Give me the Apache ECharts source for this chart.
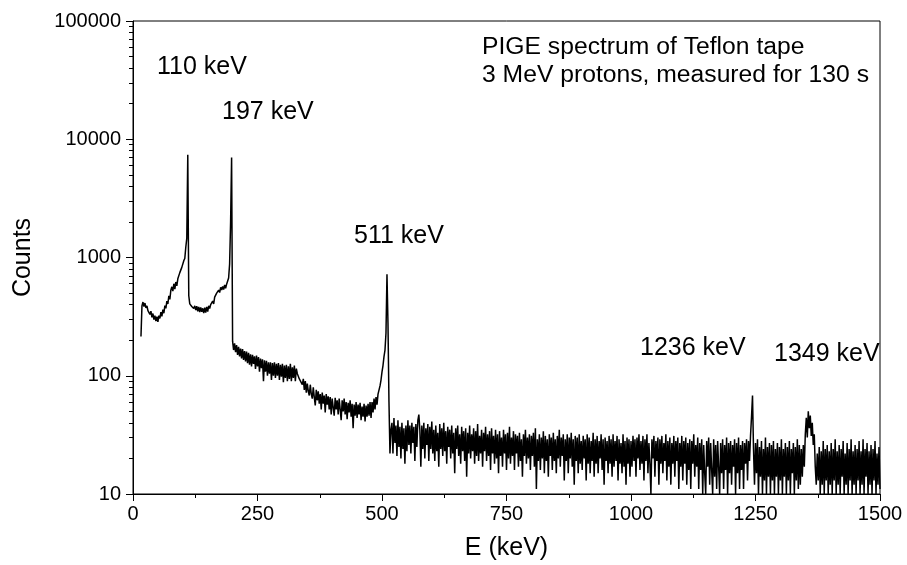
<!DOCTYPE html>
<html>
<head>
<meta charset="utf-8">
<script src="https://cdn.jsdelivr.net/npm/echarts@6/dist/echarts.min.js"></script>
<style>
html,body{margin:0;padding:0;background:#fff;}
#chart{width:907px;height:565px;}
</style>
</head>
<body>
<div id="chart"></div>
<script>
// ---- data (energy step 2 keV) ----
const STEP = 2;

// E = 16 .. 198 keV
const startLow = 16;
const countsLow = [
  215,390,420,385,412,375,390,355,368,330,
  352,312,336,298,322,290,316,286,322,305,
  345,318,362,338,392,372,428,405,475,442,
  530,565,520,600,540,620,575,660,655,745,
  735,825,830,940,980,1220,1450,7400,475,405,
  412,385,398,370,390,360,388,350,382,345,
  378,348,372,338,376,342,382,348,390,370,
  400,385,428,405,462,445,500,485,530,505,
  560,530,570,535,585,550,595,590,670,880,
  2000,7000
];

// E = 200 .. 518 keV
const startMid = 200;
const countsMid = [
  195,165,188,158,182,150,176,146,170,140,
  168,136,162,132,160,128,156,124,152,120,
  150,126,146,114,148,120,144,108,140,116,
  138,90,135,108,134,100,130,104,130,92,
  128,100,130,96,126,100,128,92,124,98,
  126,88,122,96,124,90,120,94,126,90,
  118,96,122,90,115,104,108,94,92,92,
  84,94,76,90,72,86,74,68,84,70,
  64,80,66,56,76,62,74,58,70,52,
  72,58,68,49,70,57,67,52,66,47,
  64,54,46,65,52,62,47,64,52,42,
  62,50,64,47,60,43,59,49,62,45,
  58,36,57,46,60,44,57,47,59,42,
  55,45,58,41,56,45,58,46,60,44,
  60,49,64,52,66,57,70,68,82,92,
  108,122,145,165,230,720,280,60,22,35
];

// E = 520 .. 998 keV
const startHigh = 520;
const countsHigh = [
  40,22,44,27,38,21,42,25,37,20,40,24,36,18,38,23,42,26,38,22,
  40,27,37,19,39,25,42,47,35,17,38,24,40,20,36,26,39,19,37,24,
  41,22,35,19,38,23,33,17,39,24,36,21,40,23,34,18,37,25,35,20,
  38,22,33,15,36,24,38,21,32,18,37,23,34,19,36,14,33,22,38,20,
  32,23,36,18,34,21,39,19,31,22,
  35,17,33,23,37,19,32,21,34,16,36,22,31,18,35,20,32,15,34,21,
  30,17,35,22,32,16,33,20,37,18,
  30,21,34,16,32,22,31,17,33,19,
  29,14,32,21,35,18,30,20,32,16,
  31,21,33,17,36,11,29,19,32,16,30,20,34,15,31,19,29,14,32,21,
  30,16,33,19,29,15,31,20,35,17,30,21,32,13,29,19,32,15,30,20,
  33,17,29,12,31,19,30,15,32,18,
  28,16,31,20,29,13,32,18,30,15,28,19,33,14,29,18,31,15,28,20,
  32,16,29,12,30,19,28,15,31,18,29,14,32,17,28,19,31,13,29,18,
  27,15,32,17,28,12,30,18,29,14
];

// E = 1000 .. 1500 keV
const startTail = 1000;
const countsTail = [
  28,17,31,19,29,14,30,20,32,16,28,18,31,13,29,19,32,15,27,18,
  10,29,20,31,14,28,19,30,12,29,18,31,15,27,19,32,13,28,17,30,
  12,27,18,31,14,28,19,30,11,27,
  17,31,13,28,18,30,12,27,16,29,11,28,18,32,14,26,17,30,11,27,
  16,29,10,26,15,10,28,17,30,12,27,16,10,29,14,26,11,28,17,10,
  27,15,29,11,26,16,30,10,27,15,
  28,12,26,17,29,10,27,15,30,11,26,16,28,11,27,18,29,13,28,19,
  31,45,68,24,12,27,15,29,10,25,14,28,10,24,13,30,10,25,14,27,
  10,26,13,28,10,24,14,27,10,25,
  13,29,10,24,14,27,10,25,13,28,10,24,15,27,10,25,13,29,11,26,
  12,24,14,26,17,32,44,30,50,36,46,31,40,26,32,17,12,22,13,25,
  10,23,12,28,10,24,13,26,10,23,
  12,27,10,24,13,29,10,23,12,26,10,24,14,28,10,22,12,27,10,24,
  13,29,10,23,12,26,10,24,13,28,10,23,12,29,10,24,14,27,10,23,
  12,26,10,24,13,28,10,22,12,25,11
];

// axis ticks
const xMin = 0, xMax = 1500, xInterval = 250;
const yMin = 10, yMax = 100000;
const yMinorTicks = [
  20,30,40,50,60,70,80,90,
  200,300,400,500,600,700,800,900,
  2000,3000,4000,5000,6000,7000,8000,9000,
  20000,30000,40000,50000,60000,70000,80000,90000
];

// texts
const xTitle = 'E (keV)';
const yTitle = 'Counts';
const peakLabels = ['110 keV', '197 keV', '511 keV', '1236 keV', '1349 keV'];
const infoLines = ['PIGE spectrum of Teflon tape', '3 MeV protons, measured for 130 s'];

// ---- build series data ----
const segments = [
  {start: startLow, values: countsLow},
  {start: startMid, values: countsMid},
  {start: startHigh, values: countsHigh},
  {start: startTail, values: countsTail}
];
const spectrum = [];
segments.forEach(seg => seg.values.forEach((v, i) => spectrum.push([seg.start + i * STEP, v])));

const FONT = '"Liberation Sans", Arial, sans-serif';
const chart = echarts.init(document.getElementById('chart'), null, {renderer: 'canvas'});

// label pixel positions (left edge, vertical centre)
const peakLabelPos = [[157, 67], [222, 112], [354, 236], [640, 348], [774, 354]];
const infoPos = [[482, 47], [482, 75]];

const graphics = [];
peakLabels.forEach((t, i) => graphics.push({
  type: 'text', x: peakLabelPos[i][0], y: peakLabelPos[i][1], z: 100,
  style: {text: t, fontSize: 25, fontFamily: FONT, fill: '#000', align: 'left', verticalAlign: 'middle'}
}));
infoLines.forEach((t, i) => graphics.push({
  type: 'text', x: infoPos[i][0], y: infoPos[i][1], z: 100,
  style: {text: t, fontSize: 24.7, fontFamily: FONT, fill: '#000', align: 'left', verticalAlign: 'middle'}
}));

const option = {
  animation: false,
  backgroundColor: '#fff',
  grid: {left: 133, right: 27, top: 21, bottom: 71, show: true, borderColor: '#000', borderWidth: 1,
    containLabel: false, outerBoundsMode: 'none'},
  xAxis: {
    type: 'value', min: xMin, max: xMax, interval: xInterval,
    name: xTitle, nameLocation: 'middle', nameGap: 42,
    nameTextStyle: {fontSize: 25, color: '#000', fontFamily: FONT},
    axisLine: {show: true, lineStyle: {color: '#000', width: 1}},
    axisTick: {show: true, inside: false, length: 7, lineStyle: {color: '#000', width: 1}},
    minorTick: {show: true, splitNumber: 2, length: 4, lineStyle: {color: '#000', width: 1}},
    axisLabel: {fontSize: 20, color: '#000', fontFamily: FONT, margin: 10,
      formatter: v => String(v)},
    splitLine: {show: false}, minorSplitLine: {show: false}
  },
  yAxis: [
    {
      type: 'log', logBase: 10, min: yMin, max: yMax, position: 'left',
      name: yTitle, nameLocation: 'middle', nameGap: 97, nameRotate: 90,
      nameTextStyle: {fontSize: 25, color: '#000', fontFamily: FONT},
      axisLine: {show: true, lineStyle: {color: '#000', width: 1}},
      axisTick: {show: true, inside: false, length: 7, lineStyle: {color: '#000', width: 1}},
      axisLabel: {fontSize: 20, color: '#000', fontFamily: FONT, margin: 12,
        formatter: v => String(Math.round(v))},
      splitLine: {show: false}
    },
    {
      type: 'log', logBase: 10, min: yMin, max: yMax, position: 'left',
      axisLine: {show: false},
      axisTick: {show: true, inside: false, length: 4, customValues: yMinorTicks, lineStyle: {color: '#000', width: 1}},
      axisLabel: {show: false},
      splitLine: {show: false}
    }
  ],
  series: [{
    type: 'line', data: spectrum, xAxisIndex: 0, yAxisIndex: 0,
    showSymbol: false, symbol: 'none', clip: true,
    lineStyle: {color: '#000', width: 1.5}
  }],
  graphic: graphics
};
chart.setOption(option);
</script>
</body>
</html>
